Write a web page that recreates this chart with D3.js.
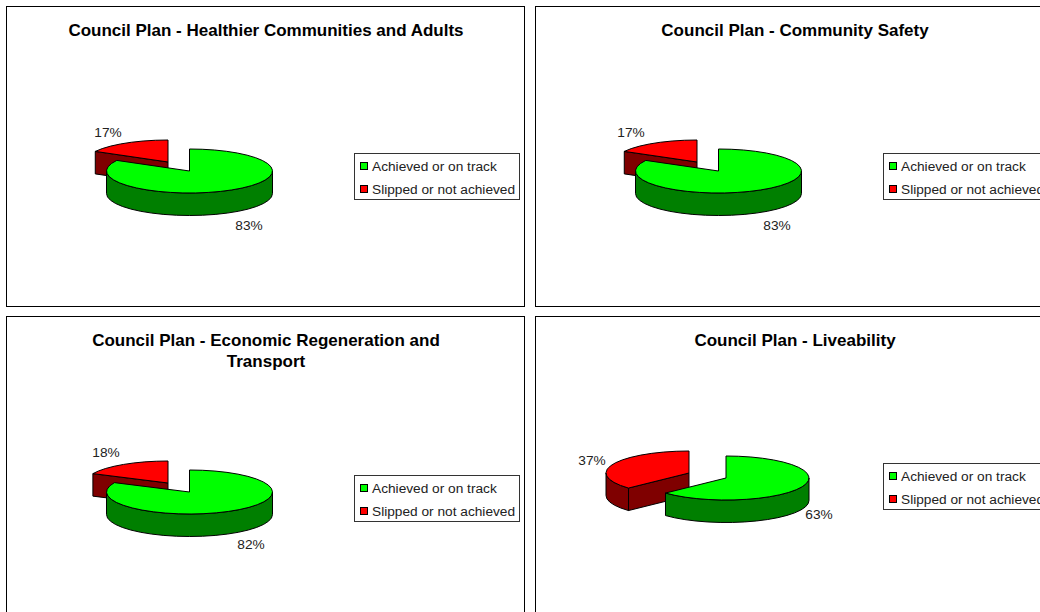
<!DOCTYPE html>
<html>
<head>
<meta charset="utf-8">
<script src="https://cdn.jsdelivr.net/npm/d3@7"></script>
<style>
html,body{margin:0;padding:0;background:#fff;overflow:hidden}
svg{display:block}
text{font-family:"Liberation Sans",Arial,sans-serif;fill:#222}
</style>
</head>
<body>
<svg id="c" width="1040" height="612"></svg>
<script>
const categories = ["Achieved or on track", "Slipped or not achieved"];
const titles = [
  ["Council Plan - Healthier Communities and Adults"],
  ["Council Plan - Community Safety"],
  ["Council Plan - Economic Regeneration and", "Transport"],
  ["Council Plan - Liveability"]
];
const achieved = [83, 83, 82, 63];
const slipped = [17, 17, 18, 37];

// layout only
const panelX = [6, 535, 6, 535], panelY = [6, 6, 316, 316];
const panelW = 518, panelH = 300;
const apexX = [183.5, 183.5, 183.5, 191], apexY = [165, 165, 176, 162];
const redDX = [-21.5, -21.5, -21.5, -37], redDY = [-9, -9, -9, -5];
const labelG = [[243, 224], [242, 224], [245, 233], [284, 203]];
const labelR = [[102, 131], [96, 131], [100, 141], [57, 149]];
const legendY = [147, 147, 159, 147];
const legendX = 348, legendW = 165, legendH = 46;
const rx = 83, ry = 22, depth = 22.5;

const colors = {
  top: d3.scaleOrdinal().domain(categories).range(["#00ff00", "#ff0000"]),
  side: d3.scaleOrdinal().domain(categories).range(["#007f00", "#7f0000"])
};
const pieGen = d3.pie().sort(null);
const svg = d3.select("#c");
const line = d3.line();
const STEP = Math.PI / 20;

function pt(cx, cy, a) { return [cx + rx * Math.sin(a), cy - ry * Math.cos(a)]; }
function rim(cx, cy, a0, a1) {
  const n = Math.max(1, Math.ceil(Math.abs(a1 - a0) / STEP));
  return d3.range(n + 1).map(i => pt(cx, cy, a0 + (a1 - a0) * i / n));
}
function shift(p, d) { return p.map(q => [q[0], q[1] + d]); }
function face(g, pts, fill) {
  g.append("path").attr("d", line(pts) + "Z").attr("fill", fill)
    .attr("stroke", "#000").attr("stroke-width", 1).attr("stroke-linejoin", "round");
}
function topSlice(g, cx, cy, a0, a1, fill) {
  face(g, [[cx, cy], ...rim(cx, cy, a0, a1)], fill);
}
function wall(g, cx, cy, a0, a1, fill) {
  const r = rim(cx, cy, a0, a1);
  face(g, [...r, ...shift(r, depth).reverse()], fill);
}

titles.forEach((tl, i) => {
  const g = svg.append("g").attr("transform", `translate(${panelX[i]},${panelY[i]})`);
  g.append("rect").attr("x", .5).attr("y", .5).attr("width", panelW).attr("height", panelH)
    .attr("fill", "#fff").attr("stroke", "#000").attr("stroke-width", 1);

  tl.forEach((t, k) => g.append("text").attr("x", panelW / 2 + 1).attr("y", 29.5 + k * 21)
    .attr("text-anchor", "middle").attr("font-size", 17).attr("font-weight", "bold").style("fill", "#000").text(t));

  const arcs = pieGen([achieved[i], slipped[i]]);
  const A = arcs[0], S = arcs[1];
  const cx = apexX[i], cy = apexY[i], ux = cx + redDX[i], uy = cy + redDY[i];

  // slipped slice: radial cut face, rim, top
  const sStart = pt(ux, uy, S.startAngle);
  face(g, [[ux, uy], sStart, [sStart[0], sStart[1] + depth], [ux, uy + depth]], colors.side(categories[1]));
  const rimFrom = Math.max(S.startAngle, Math.PI);
  const rimTo = Math.min(S.endAngle, Math.PI * 1.5);
  if (rimTo > rimFrom) wall(g, ux, uy, rimFrom, rimTo, colors.side(categories[1]));
  topSlice(g, ux, uy, S.startAngle, S.endAngle, colors.top(categories[1]));

  // achieved slice: rim, top
  wall(g, cx, cy, Math.PI / 2, Math.min(A.endAngle, Math.PI * 1.5), colors.side(categories[0]));
  topSlice(g, cx, cy, A.startAngle, A.endAngle, colors.top(categories[0]));

  // percentage labels
  [[achieved[i], labelG[i]], [slipped[i], labelR[i]]].forEach(([v, p]) => {
    g.append("text").attr("x", p[0]).attr("y", p[1]).attr("text-anchor", "middle")
      .attr("font-size", 13.7).text(d3.format("d")(v) + "%");
  });

  // legend
  const lg = g.append("g").attr("transform", `translate(${legendX},${legendY[i]})`);
  lg.append("rect").attr("x", .5).attr("y", .5).attr("width", legendW).attr("height", legendH)
    .attr("fill", "#fff").attr("stroke", "#333").attr("stroke-width", 1);
  categories.forEach((c, k) => {
    lg.append("rect").attr("x", 6.5).attr("y", 9.5 + k * 23).attr("width", 7).attr("height", 7)
      .attr("fill", colors.top(c)).attr("stroke", "#000");
    lg.append("text").attr("x", 18).attr("y", 18 + k * 23).attr("font-size", 13.7).text(c);
  });
});
</script>
</body>
</html>
